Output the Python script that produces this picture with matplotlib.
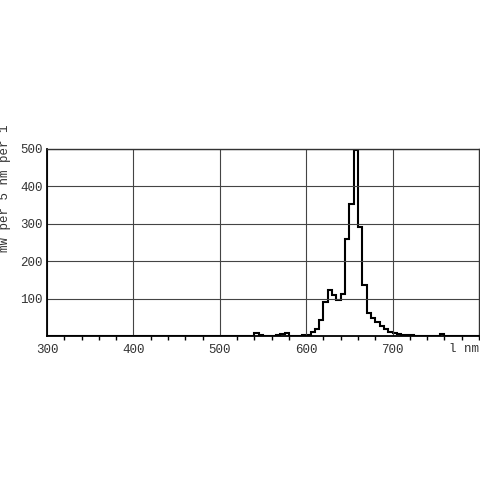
import numpy as np
import matplotlib
matplotlib.use("Agg")
import matplotlib.pyplot as plt
from matplotlib.ticker import MultipleLocator

# 5 nm bins: start wavelength of each bin (nm) and power (mW per 5 nm)
bin_start = [535, 540, 545, 550, 555, 560, 565, 570, 575, 580, 585, 590, 595,
             600, 605, 610, 615, 620, 625, 630, 635, 640, 645, 650, 655, 660,
             665, 670, 675, 680, 685, 690, 695, 700, 705, 710, 715, 720, 725,
             730, 735, 740, 745, 750, 755, 760, 765, 770]
power = [0, 8, 2, 1, 1, 1, 3, 6, 8, 1, 1, 1, 2,
         3, 10, 20, 44, 91, 124, 109, 96, 112, 259, 353, 497, 292,
         136, 62, 48, 37, 28, 19, 12, 8, 5, 3, 2, 2, 1,
         1, 1, 1, 1, 1, 5, 1, 1, 0]
x_ticks = [300, 400, 500, 600, 700]
y_ticks = [100, 200, 300, 400, 500]

edges = np.arange(300, 805, 5)
vals = np.zeros(len(edges) - 1)
for s, p in zip(bin_start, power):
    vals[(s - 300) // 5] = p

plt.rcParams['font.family'] = ['Liberation Mono', 'DejaVu Sans Mono']

fig = plt.figure(figsize=(4.8, 4.8), dpi=100)
ax = fig.add_axes([47/480, 1 - 336/480, 432/480, (336 - 149)/480])

ax.stairs(vals, edges, color='black', linewidth=1.5, baseline=None)
ax.set_xlim(300, 800)
ax.set_ylim(0, 500)
ax.set_xticks(x_ticks)
ax.set_yticks(y_ticks)
ax.xaxis.set_minor_locator(MultipleLocator(20))
ax.grid(True, which='major', color='#444444', linewidth=0.8)
ax.tick_params(axis='x', which='major', length=0, pad=6, labelsize=9, labelcolor='#333333')
ax.tick_params(axis='x', which='minor', length=3, width=1, color='black', direction='out')
ax.tick_params(axis='y', which='major', length=0, pad=3, labelsize=9, labelcolor='#333333')

for side in ['left', 'bottom']:
    ax.spines[side].set_color('black')
    ax.spines[side].set_linewidth(1.3)
for side in ['top', 'right']:
    ax.spines[side].set_color('#333333')
    ax.spines[side].set_linewidth(1.0)

fig.text(479/480, 1 - 349/480, 'l nm', ha='right', va='center', fontsize=9, color='#333333')
fig.text(5/480, 1 - 188/480, 'mW per 5 nm per 1', rotation=90, ha='center', va='center',
         fontsize=9, color='#333333')

fig.savefig('out.png', dpi=100)
